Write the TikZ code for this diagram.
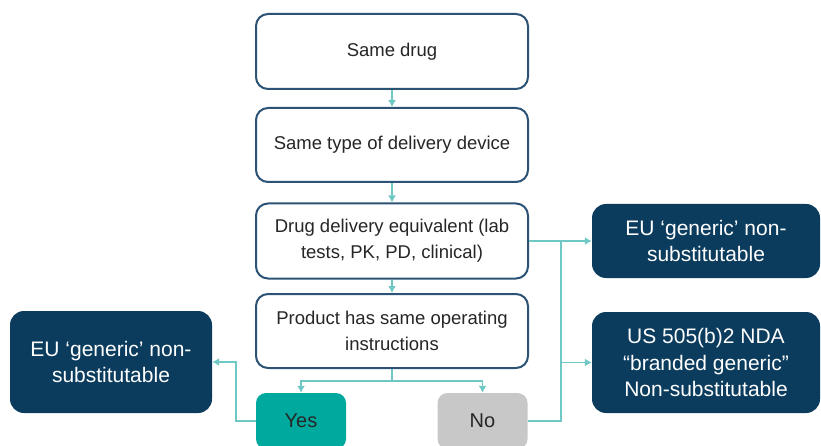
\documentclass[tikz,border=0pt]{standalone}
\usepackage{fontspec}
\setmainfont{Liberation Sans}
\usetikzlibrary{arrows.meta}
\definecolor{navy}{HTML}{0B3C5D}
\definecolor{edgec}{HTML}{2C5275}
\definecolor{linkc}{HTML}{6FC8C3}
\definecolor{yesc}{HTML}{00A99D}
\definecolor{noc}{HTML}{C8C8C8}
\begin{document}
\begin{tikzpicture}[x=1pt,y=-1pt,
  stepbox/.style={draw=edgec, line width=2pt, fill=white, rounded corners=12pt,
    minimum width=272pt, minimum height=75pt, align=center,
    font=\fontsize{18.5}{26}\selectfont, text=black!85, inner sep=0pt},
  outbox/.style={fill=navy, rounded corners=14pt, text=white, align=center,
    font=\fontsize{21}{26.5}\selectfont, inner sep=0pt},
  answer/.style={rounded corners=10pt, minimum width=90pt, minimum height=56pt,
    font=\fontsize{20}{24}\selectfont, text=black!85, inner sep=0pt},
  conn/.style={draw=linkc, line width=1.5pt},
  arr/.style={conn, -{Latex[length=7pt,width=8pt]}}]
\useasboundingbox (0,0) rectangle (821,446);
\node[stepbox] (s1) at (392,51.5) {Same drug};
\node[stepbox, minimum height=74pt] (s2) at (392,145) {Same type of delivery device};
\node[stepbox] (s3) at (392,241) {Drug delivery equivalent (lab\\tests, PK, PD, clinical)};
\node[stepbox, minimum height=74pt] (s4) at (392,331) {Product has same operating\\instructions};
\node[answer, fill=yesc] (yes) at (301,421) {Yes};
\node[answer, fill=noc] (no) at (482.5,421) {No};
\node[outbox, minimum width=202pt, minimum height=102pt] (eu1) at (111,362) {EU ‘generic’ non-\\substitutable};
\node[outbox, minimum width=228pt, minimum height=74pt] (eu2) at (706,241) {EU ‘generic’ non-\\substitutable};
\node[outbox, minimum width=228pt, minimum height=101pt] (us) at (706,362.5) {US 505(b)2 NDA\\“branded generic”\\Non-substitutable};
\draw[arr] (s1) -- (s2);
\draw[arr] (s2) -- (s3);
\draw[arr] (s3) -- (s4);
\draw[arr] (s3.east) -- (eu2.west);
\coordinate (j) at (561,241);
\draw[conn] (no.east) -| (j);
\draw[arr] (j |- us.west) -- (us.west);
\coordinate (b) at (392,381);
\draw[conn] (s4.south) -- (b);
\draw[arr] (b) -| (yes.north);
\draw[arr] (b) -| (no.north);
\coordinate (k) at (236,362);
\draw[arr] (yes.west) -| (k) -- (eu1.east);
\end{tikzpicture}
\end{document}
